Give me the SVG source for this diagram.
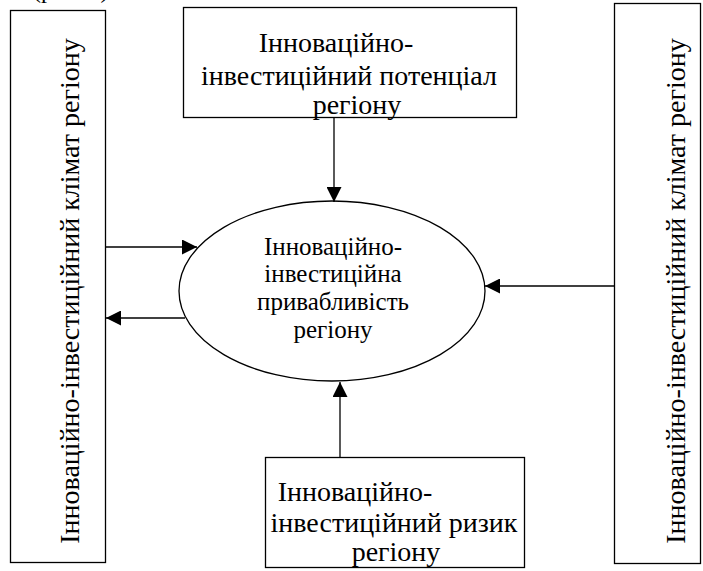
<svg xmlns="http://www.w3.org/2000/svg" width="703" height="571" viewBox="0 0 703 571">
<style>
.box{fill:#fff;stroke:#000;stroke-width:1.3}
.c{stroke:#000;stroke-width:1.3;fill:none}
</style>
<defs>
<marker id="ah" viewBox="0 0 10 10" refX="10" refY="5" markerWidth="15" markerHeight="15" markerUnits="userSpaceOnUse" orient="auto">
<path d="M0,0 L10,5 L0,10 Z" fill="#000"/>
</marker>
</defs>
<rect width="703" height="571" fill="#fff"/>
<text x="33" y="-2" font-family="Liberation Serif, serif" font-size="24">(рис. 1)</text>
<g id="left">
<rect class="box" x="10.5" y="10.5" width="95" height="552"/>
<text font-family="Liberation Serif, serif" text-anchor="middle" font-size="28" transform="translate(79,291) rotate(-90)">Інноваційно-інвестиційний клімат регіону</text>
</g>
<g id="right">
<rect class="box" x="614.5" y="3.5" width="86" height="560"/>
<text font-family="Liberation Serif, serif" text-anchor="middle" font-size="28" transform="translate(685,291) rotate(-90)">Інноваційно-інвестиційний клімат регіону</text>
</g>
<g id="top" font-family="Liberation Serif, serif" text-anchor="middle" font-size="28">
<rect class="box" x="183.5" y="7.5" width="333" height="110"/>
<text x="336" y="52">Інноваційно-</text>
<text x="349" y="85">інвестиційний потенціал</text>
<text x="357" y="114">регіону</text>
</g>
<g id="center" font-family="Liberation Serif, serif" text-anchor="middle" font-size="25">
<ellipse class="box" cx="332" cy="291" rx="153" ry="90"/>
<text x="333" y="255">Інноваційно-</text>
<text x="333" y="282">інвестиційна</text>
<text x="333" y="310">привабливість</text>
<text x="333" y="338">регіону</text>
</g>
<g id="bottom" font-family="Liberation Serif, serif" text-anchor="middle" font-size="28">
<rect class="box" x="265.5" y="457.5" width="259" height="110"/>
<text x="355" y="501">Інноваційно-</text>
<text x="394" y="532">інвестиційний ризик</text>
<text x="396" y="561">регіону</text>
</g>
<g id="connectors">
<line class="c" x1="334" y1="118" x2="334" y2="202" marker-end="url(#ah)"/>
<line class="c" x1="105" y1="247" x2="197" y2="247" marker-end="url(#ah)"/>
<line class="c" x1="185" y1="318" x2="106" y2="318" marker-end="url(#ah)"/>
<line class="c" x1="614" y1="286" x2="485" y2="286" marker-end="url(#ah)"/>
<line class="c" x1="340" y1="457" x2="340" y2="382" marker-end="url(#ah)"/>
</g>
</svg>
